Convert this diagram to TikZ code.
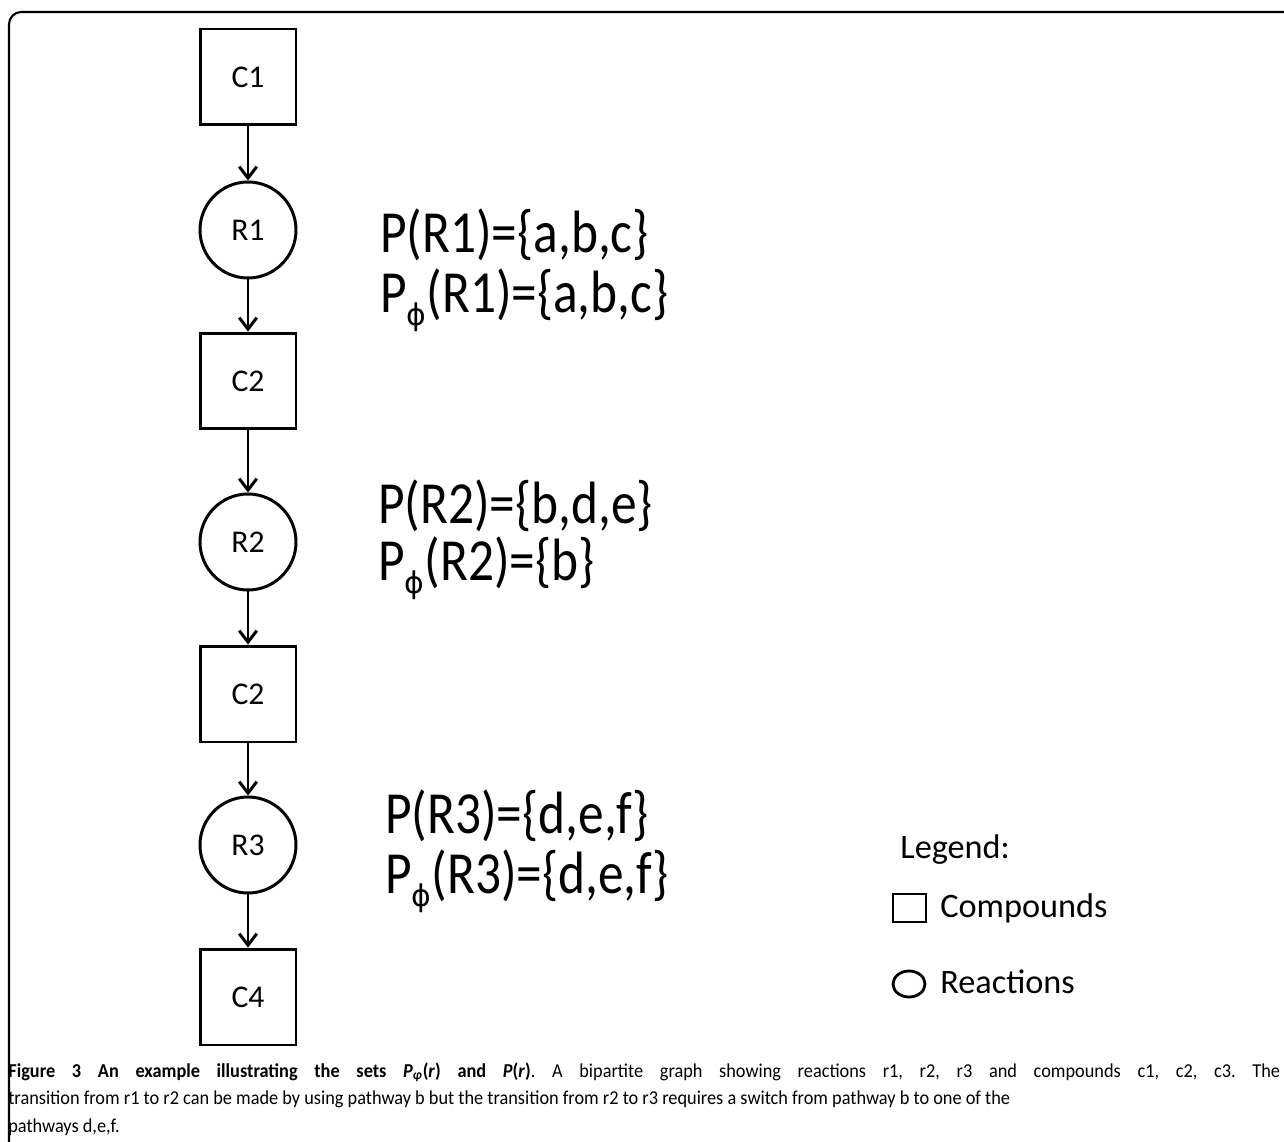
\documentclass[tikz,border=0pt]{standalone}
\usepackage{fontspec}
\setmainfont{Carlito}
\newfontfamily\setsfont[FakeStretch=0.86]{Carlito}
\newfontfamily\capfont[FakeStretch=0.93]{Carlito}
\newfontfamily\phifont{DejaVu Sans}
\usetikzlibrary{arrows.meta}
\newcommand{\phisub}{\raisebox{-0.22em}{\phifont\fontsize{17}{17}\selectfont ϕ}}
\frenchspacing
\begin{document}
\begin{tikzpicture}[x=0.02cm,y=-0.02cm,
    compound/.style={draw,line width=1.7pt,minimum size=1.92cm,inner sep=0pt,font=\fontsize{18}{20}\selectfont},
    reaction/.style={draw,circle,line width=1.7pt,minimum size=1.92cm,inner sep=0pt,font=\fontsize{18}{20}\selectfont},
    flow/.style={line width=1.7pt,-{Straight Barb[length=6.5pt,width=10pt,line width=1.7pt]}},
    setlabel/.style={anchor=base west,inner sep=0pt,font=\setsfont\fontsize{34}{40}\selectfont},
    legendtext/.style={anchor=base west,inner sep=0pt,font=\fontsize{19.5}{24}\selectfont}]
  \useasboundingbox (0,0) rectangle (1284,1142);
  \clip (0,0) rectangle (1284,1142);
  \draw[line width=1.2pt,rounded corners=7pt] (9,12) rectangle (1320,1180);

  \node[compound] (c1) at (248,77) {C1};
  \node[reaction] (r1) at (248,230) {R1};
  \node[compound] (c2) at (248,381) {C2};
  \node[reaction] (r2) at (248,542) {R2};
  \node[compound] (c3) at (248,694) {C2};
  \node[reaction] (r3) at (248,845) {R3};
  \node[compound] (c4) at (248,997) {C4};

  \draw[flow] (c1) -- (r1);
  \draw[flow] (r1) -- (c2);
  \draw[flow] (c2) -- (r2);
  \draw[flow] (r2) -- (c3);
  \draw[flow] (c3) -- (r3);
  \draw[flow] (r3) -- (c4);

  \node[setlabel] (pr1) at (380,253) {P(R1)=\{a,b,c\}};
  \node[setlabel] (pphir1) at (380,312) {P\phisub(R1)=\{a,b,c\}};
  \node[setlabel] (pr2) at (378,523) {P(R2)=\{b,d,e\}};
  \node[setlabel] (pphir2) at (378,580) {P\phisub(R2)=\{b\}};
  \node[setlabel] (pr3) at (385,833) {P(R3)=\{d,e,f\}};
  \node[setlabel] (pphir3) at (385,893) {P\phisub(R3)=\{d,e,f\}};

  \node[legendtext] (legend) at (900,858) {Legend:};
  \node[draw,line width=1.6pt,minimum width=0.66cm,minimum height=0.56cm,inner sep=0pt] (lgbox) at (909.5,908) {};
  \node[legendtext] (lgcomp) at (940,917) {Compounds};
  \draw[line width=1.6pt] (909,984) ellipse (16 and 13);
  \node[legendtext] (lgreac) at (940,993) {Reactions};

  \node[anchor=base west,inner sep=0pt,text width=25.44cm,align=justify,
        font=\capfont\fontsize{11.2}{15.9}\selectfont] (caption) at (8,1077)
    {\textbf{Figure 3 An example illustrating the sets \textit{P}\textsubscript{\textit{φ}}(\textit{r}) and \textit{P}(\textit{r})}. A bipartite graph showing reactions r1, r2, r3 and compounds c1, c2, c3. The\linebreak
     transition from r1 to r2 can be made by using pathway b but the transition from r2 to r3 requires a switch from pathway b to one of the\newline
     pathways d,e,f.};
\end{tikzpicture}
\end{document}
